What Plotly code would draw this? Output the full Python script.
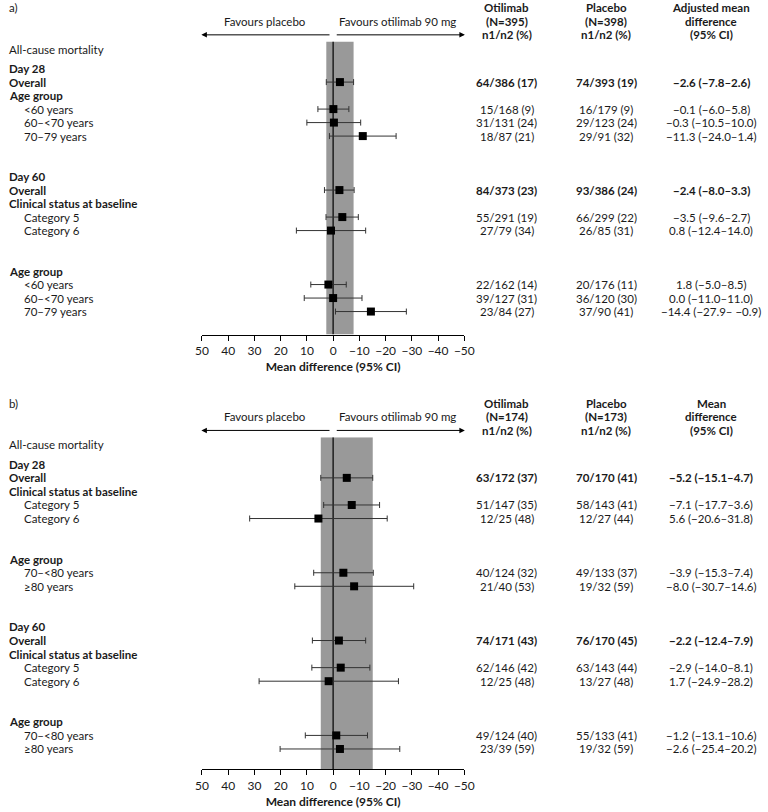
import plotly.graph_objects as go

# ---------------- Data ----------------
tick_values = [50, 40, 30, 20, 10, 0, -10, -20, -30, -40, -50]

a_header_oti = ["Otilimab", "(N=395)", "n1/n2 (%)"]
a_header_pla = ["Placebo", "(N=398)", "n1/n2 (%)"]
a_header_diff = ["Adjusted mean", "difference", "(95% CI)"]

a_labels = ["Day 28", "Overall", "Age group", "<60 years", "60–<70 years", "70–79 years", "", "",
            "Day 60", "Overall", "Clinical status at baseline", "Category 5", "Category 6", "", "",
            "Age group", "<60 years", "60–<70 years", "70–79 years"]
a_oti = [None, "64/386 (17)", None, "15/168 (9)", "31/131 (24)", "18/87 (21)", None, None,
         None, "84/373 (23)", None, "55/291 (19)", "27/79 (34)", None, None,
         None, "22/162 (14)", "39/127 (31)", "23/84 (27)"]
a_pla = [None, "74/393 (19)", None, "16/179 (9)", "29/123 (24)", "29/91 (32)", None, None,
         None, "93/386 (24)", None, "66/299 (22)", "26/85 (31)", None, None,
         None, "20/176 (11)", "36/120 (30)", "37/90 (41)"]
a_est = [None, -2.6, None, -0.1, -0.3, -11.3, None, None,
         None, -2.4, None, -3.5, 0.8, None, None,
         None, 1.8, 0.0, -14.4]
a_lo = [None, -7.8, None, -6.0, -10.5, -24.0, None, None,
        None, -8.0, None, -9.6, -12.4, None, None,
        None, -5.0, -11.0, -27.9]
a_hi = [None, 2.6, None, 5.8, 10.0, 1.4, None, None,
        None, 3.3, None, 2.7, 14.0, None, None,
        None, 8.5, 11.0, -0.9]

b_header_oti = ["Otilimab", "(N=174)", "n1/n2 (%)"]
b_header_pla = ["Placebo", "(N=173)", "n1/n2 (%)"]
b_header_diff = ["Mean", "difference", "(95% CI)"]

b_labels = ["Day 28", "Overall", "Clinical status at baseline", "Category 5", "Category 6", "", "",
            "Age group", "70–<80 years", "≥80 years", "", "",
            "Day 60", "Overall", "Clinical status at baseline", "Category 5", "Category 6", "", "",
            "Age group", "70–<80 years", "≥80 years"]
b_oti = [None, "63/172 (37)", None, "51/147 (35)", "12/25 (48)", None, None,
         None, "40/124 (32)", "21/40 (53)", None, None,
         None, "74/171 (43)", None, "62/146 (42)", "12/25 (48)", None, None,
         None, "49/124 (40)", "23/39 (59)"]
b_pla = [None, "70/170 (41)", None, "58/143 (41)", "12/27 (44)", None, None,
         None, "49/133 (37)", "19/32 (59)", None, None,
         None, "76/170 (45)", None, "63/143 (44)", "13/27 (48)", None, None,
         None, "55/133 (41)", "19/32 (59)"]
b_est = [None, -5.2, None, -7.1, 5.6, None, None,
         None, -3.9, -8.0, None, None,
         None, -2.2, None, -2.9, 1.7, None, None,
         None, -1.2, -2.6]
b_lo = [None, -15.1, None, -17.7, -20.6, None, None,
        None, -15.3, -30.7, None, None,
        None, -12.4, None, -14.0, -24.9, None, None,
        None, -13.1, -25.4]
b_hi = [None, 4.7, None, 3.6, 31.8, None, None,
        None, 7.4, 14.6, None, None,
        None, 7.9, None, 8.1, 28.2, None, None,
        None, 10.6, 20.2]

HEADINGS = {"Day 28", "Day 60", "Overall", "Age group", "Clinical status at baseline"}

# ---------------- Layout helpers ----------------
W, H = 768, 812
FONT = "Lato"
FS = 11.5
INK = "#1a1a1a"


def px_x(p):
    return p / W


def px_y(p):
    return 1 - p / H


def fmt(v):
    return f"{v:.1f}".replace("-", "−")


def ci_text(e, lo, hi):
    sep = "– " if hi < 0 else "–"
    return f"{fmt(e)} ({fmt(lo)}{sep}{fmt(hi)})"


fig = go.Figure()
annotations = []
shapes = []

panels = [
    dict(tag="a)", yname="y", xname="x", yax="yaxis", xax="xaxis",
         labels=a_labels, oti=a_oti, pla=a_pla, est=a_est, lo=a_lo, hi=a_hi,
         h_oti=a_header_oti, h_pla=a_header_pla, h_diff=a_header_diff,
         top_px=41.6, bottom_px=334.5, rmax=19.7),
    dict(tag="b)", yname="y2", xname="x2", yax="yaxis2", xax="xaxis2",
         labels=b_labels, oti=b_oti, pla=b_pla, est=b_est, lo=b_lo, hi=b_hi,
         h_oti=b_header_oti, h_pla=b_header_pla, h_diff=b_header_diff,
         top_px=437.2, bottom_px=769.3, rmax=22.5),
]

COL_OTI, COL_PLA, COL_DIFF = 511, 613, 720
X_LEFT_PX, X_RIGHT_PX = 199.3, 467.7
X_DOMAIN = [px_x(X_LEFT_PX), px_x(X_RIGHT_PX)]


def val_to_px(v):
    return X_LEFT_PX + (50 - v) / 100 * (X_RIGHT_PX - X_LEFT_PX)


def text_ann(x, y, t, anchor="left"):
    return dict(xref="paper", yref="paper", x=x, y=y, xanchor=anchor,
                yanchor="middle", showarrow=False, text=t)


layout_axes = {}
for p in panels:
    rows = list(range(len(p["labels"])))
    yref = p["yname"]
    xref = p["xname"]
    step = (p["bottom_px"] - p["top_px"]) / (p["rmax"] + 2)

    def row_y(r, p=p, step=step):
        return px_y(p["top_px"] + (r + 2) * step)

    # estimates with CIs
    xs, ys, ep, em = [], [], [], []
    for r, e, lo, hi in zip(rows, p["est"], p["lo"], p["hi"]):
        if e is None:
            continue
        xs.append(e)
        ys.append(r)
        ep.append(hi - e)
        em.append(e - lo)
    fig.add_trace(go.Scatter(
        x=xs, y=ys, mode="markers", xaxis=xref, yaxis=yref,
        marker=dict(symbol="square", size=8, color="black"),
        error_x=dict(type="data", symmetric=False, array=ep, arrayminus=em,
                     color="#333333", thickness=1, width=3),
        showlegend=False, hoverinfo="skip", cliponaxis=False,
    ))
    # band = Day 28 overall CI
    i_over = p["labels"].index("Overall")
    shapes.append(dict(type="rect", xref=xref, yref=yref,
                       x0=p["lo"][i_over], x1=p["hi"][i_over], y0=-2, y1=p["rmax"],
                       fillcolor="#999999", line=dict(width=0), layer="below"))
    shapes.append(dict(type="line", xref=xref, yref=yref, x0=0, x1=0, y0=-2, y1=p["rmax"],
                       line=dict(color="black", width=1.2), layer="below"))

    # row labels and values
    for r, lab in zip(rows, p["labels"]):
        if not lab:
            continue
        bold = lab in HEADINGS
        annotations.append(text_ann(0 if bold else px_x(15), row_y(r),
                                    f"<b>{lab}</b>" if bold else lab))
    for r, lab, o, pl, e, lo, hi in zip(rows, p["labels"], p["oti"], p["pla"],
                                        p["est"], p["lo"], p["hi"]):
        if e is None:
            continue
        bold = lab in HEADINGS
        for xpx, t in ((COL_OTI, o), (COL_PLA, pl), (COL_DIFF, ci_text(e, lo, hi))):
            annotations.append(text_ann(px_x(xpx), row_y(r),
                                        f"<b>{t}</b>" if bold else t, "center"))
    # headers
    for k in range(3):
        yy = row_y(-4.5 + k)
        for xpx, t in ((COL_OTI, p["h_oti"][k]), (COL_PLA, p["h_pla"][k]),
                       (COL_DIFF, p["h_diff"][k])):
            annotations.append(text_ann(px_x(xpx), yy, f"<b>{t}</b>", "center"))
    annotations.append(text_ann(0, row_y(-4.5), p["tag"]))
    annotations.append(text_ann(0, row_y(-1.43), "All-cause mortality"))
    # favours
    annotations.append(text_ann(px_x(264.3), row_y(-3.5), "Favours placebo", "center"))
    annotations.append(text_ann(px_x(399), row_y(-3.5), "Favours otilimab 90 mg", "center"))
    for tip, tail in ((50.2, 1.9), (-50.2, -1.9)):
        tip_px, tail_px = val_to_px(tip), val_to_px(tail)
        annotations.append(dict(xref="paper", yref="paper",
                                x=px_x(tip_px), y=row_y(-2.5),
                                ax=tail_px - tip_px, ay=0, text="",
                                showarrow=True, arrowhead=2, arrowsize=1.1,
                                arrowwidth=1, arrowcolor="black"))

    layout_axes[p["yax"]] = dict(domain=[px_y(p["bottom_px"]), px_y(p["top_px"])],
                                 range=[p["rmax"], -2], visible=False,
                                 anchor=xref, fixedrange=True)
    layout_axes[p["xax"]] = dict(
        domain=X_DOMAIN, range=[50, -50], anchor=yref,
        tickvals=tick_values,
        ticktext=[fmt(v).replace(".0", "") if v != 0 else "0" for v in tick_values],
        ticks="outside", ticklen=5, tickcolor="black", tickwidth=1,
        showline=True, linecolor="black", linewidth=1,
        showgrid=False, zeroline=False, fixedrange=True,
        tickfont=dict(size=12, color=INK, family=FONT),
        title=dict(text="<b>Mean difference (95% CI)</b>", standoff=5,
                   font=dict(size=12, color=INK, family=FONT)))

fig.update_layout(
    width=W, height=H,
    margin=dict(l=0, r=0, t=0, b=0),
    paper_bgcolor="white", plot_bgcolor="rgba(0,0,0,0)",
    font=dict(family=FONT, size=FS, color=INK),
    annotations=annotations, shapes=shapes,
    showlegend=False,
    **layout_axes,
)

fig.write_html("out.html", config={"displayModeBar": False},
               post_script="document.body.style.margin='0';")
